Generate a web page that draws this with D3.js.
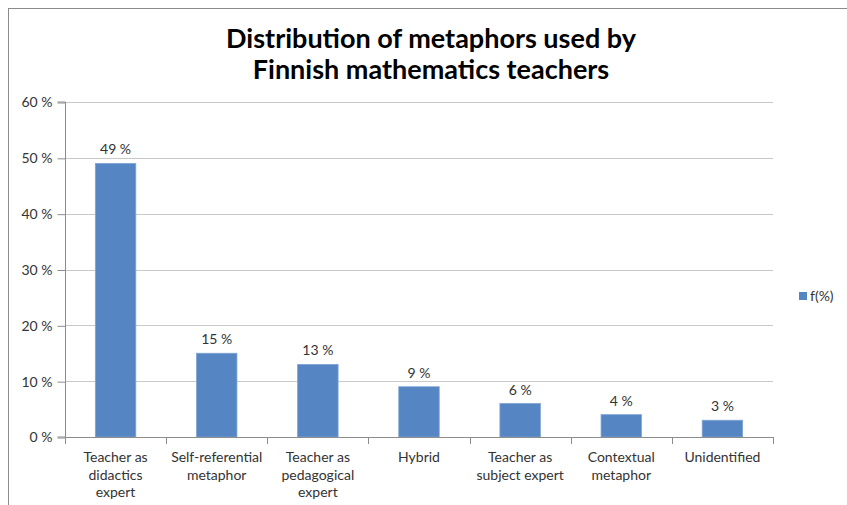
<!DOCTYPE html>
<html>
<head>
<meta charset="utf-8">
<script src="https://cdn.jsdelivr.net/npm/d3@7"></script>
<style>
  body { margin: 0; background: #fff; }
  text { font-family: Lato, "Open Sans", sans-serif; fill: #333; }
</style>
</head>
<body>
<svg width="847" height="505"></svg>
<script>
// chart data
var categories = [
  ["Teacher as", "didactics", "expert"],
  ["Self-referential", "metaphor"],
  ["Teacher as", "pedagogical", "expert"],
  ["Hybrid"],
  ["Teacher as", "subject expert"],
  ["Contextual", "metaphor"],
  ["Unidentified"]
];
var values = [49, 15, 13, 9, 6, 4, 3];
var yTicks = [0, 10, 20, 30, 40, 50, 60];
var seriesName = "f(%)";
var titleLines = ["Distribution of metaphors used by", "Finnish mathematics teachers"];

var svg = d3.select("svg");

// outer chart border
svg.append("rect")
  .attr("x", 8.5).attr("y", 8.5)
  .attr("width", 850).attr("height", 510)
  .attr("fill", "none")
  .attr("stroke", "#8c8c8c");

var plotL = 65, plotR = 773, plotT = 102, plotB = 437;
var fs = 14;

var x = d3.scaleBand()
  .domain(d3.range(categories.length))
  .range([plotL, plotR])
  .paddingInner(0.6)
  .paddingOuter(0.3);

// boundaries between categories
var step = (plotR - plotL) / categories.length;

var y = d3.scaleLinear()
  .domain([0, 60])
  .range([plotB, plotT]);

// gridlines
svg.append("g")
  .selectAll("line")
  .data(yTicks.slice(1))
  .enter().append("line")
  .attr("x1", plotL).attr("x2", plotR)
  .attr("y1", function(d) { return Math.round(y(d)) + 0.5; })
  .attr("y2", function(d) { return Math.round(y(d)) + 0.5; })
  .attr("stroke", "#c8c8c8");

// y axis
var ya = svg.append("g")
  .attr("transform", "translate(" + (plotL + 0.5) + ",0.5)")
  .call(d3.axisLeft(y)
    .tickValues(yTicks)
    .tickSize(8)
    .tickPadding(5)
    .tickFormat(function(d) { return d + " %"; }));
ya.selectAll("path,line").attr("stroke", "#8c8c8c");
ya.select(".domain").attr("d", "M-8," + (plotT - 0.5) + "H0V" + (plotB - 0.5) + "H-8");
ya.selectAll("text").attr("font-size", fs).attr("fill", "#333").attr("font-family", "Lato, sans-serif");

// bars
svg.append("g")
  .selectAll("rect")
  .data(values)
  .enter().append("rect")
  .attr("x", function(d, i) { return x(i); })
  .attr("y", function(d) { return y(d); })
  .attr("width", x.bandwidth())
  .attr("height", function(d) { return plotB - y(d); })
  .attr("fill", "#5585c3")
  .attr("stroke", "#7ea3d3")
  .attr("stroke-width", 0.8);

// x axis line and ticks
var xa = svg.append("g");
xa.append("line")
  .attr("x1", plotL).attr("x2", plotR)
  .attr("y1", plotB + 0.5).attr("y2", plotB + 0.5)
  .attr("stroke", "#8c8c8c");
xa.selectAll("line.tick")
  .data(d3.range(categories.length + 1))
  .enter().append("line")
  .attr("class", "tick")
  .attr("x1", function(i) { return Math.round(plotL + i * step) + 0.5; })
  .attr("x2", function(i) { return Math.round(plotL + i * step) + 0.5; })
  .attr("y1", plotB).attr("y2", plotB + 7)
  .attr("stroke", "#8c8c8c");

// category labels
var cl = xa.selectAll("text")
  .data(categories)
  .enter().append("text")
  .attr("text-anchor", "middle")
  .attr("font-size", fs)
  .attr("x", function(d, i) { return x(i) + x.bandwidth() / 2; })
  .attr("y", 462);
cl.selectAll("tspan")
  .data(function(d) { return d; })
  .enter().append("tspan")
  .attr("x", function() { return this.parentNode.getAttribute("x"); })
  .attr("dy", function(d, i) { return i ? 17.5 : 0; })
  .text(function(d) { return d; });

// value labels
svg.append("g")
  .selectAll("text")
  .data(values)
  .enter().append("text")
  .attr("text-anchor", "middle")
  .attr("font-size", fs)
  .attr("x", function(d, i) { return x(i) + x.bandwidth() / 2; })
  .attr("y", function(d) { return y(d) - 9; })
  .text(function(d) { return d + " %"; });

// title
svg.append("g")
  .selectAll("text")
  .data(titleLines)
  .enter().append("text")
  .attr("text-anchor", "middle")
  .attr("font-size", 27)
  .attr("font-weight", "bold")
  .attr("x", 431)
  .attr("y", function(d, i) { return 48 + i * 31; })
  .style("fill", "#000")
  .text(function(d) { return d; });

// legend
var lg = svg.append("g").attr("transform", "translate(799,292)");
lg.append("rect")
  .attr("width", 8).attr("height", 8)
  .attr("fill", "#5585c3");
lg.append("text")
  .attr("x", 11).attr("y", 9)
  .attr("font-size", fs)
  .text(seriesName);
</script>
</body>
</html>
